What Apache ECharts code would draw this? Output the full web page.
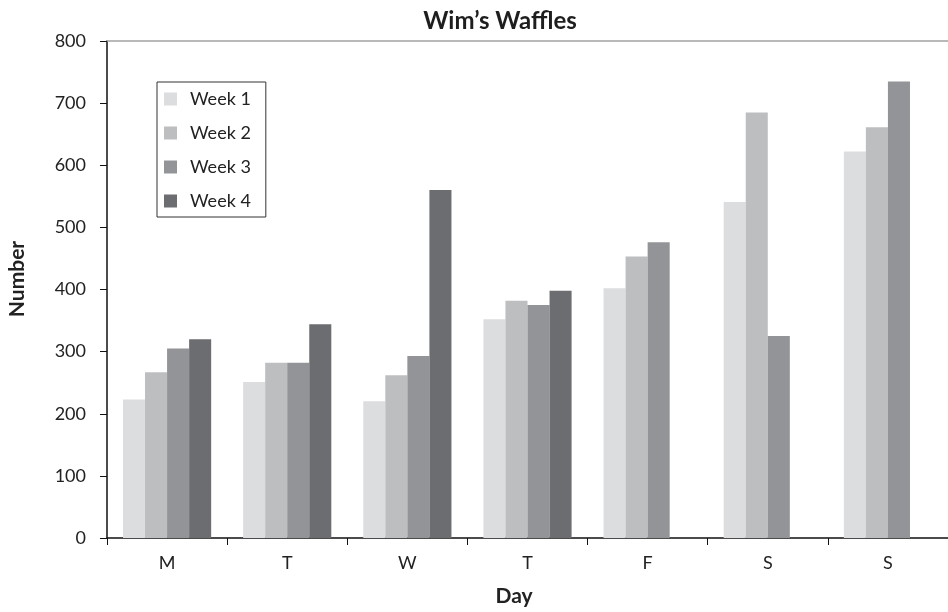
<!DOCTYPE html>
<html>
<head>
<meta charset="utf-8">
<script src="https://cdn.jsdelivr.net/npm/echarts@6/dist/echarts.min.js"></script>
<style>
  html, body { margin: 0; padding: 0; background: #fff; }
  #chart { width: 948px; height: 612px; }
</style>
</head>
<body>
<div id="chart"></div>
<script>
// Daily waffle counts over four weeks
const days = ['M', 'T', 'W', 'T', 'F', 'S', 'S'];
const week1 = [223, 251, 220, 352, 402, 541, 622];
const week2 = [267, 282, 262, 382, 453, 685, 661];
const week3 = [305, 282, 293, 375, 476, 325, 735];
const week4 = [320, 344, 560, 398, null, null, null];
const weekNames = ['Week 1', 'Week 2', 'Week 3', 'Week 4'];
const weekColors = ['#dcdddf', '#bdbec0', '#939497', '#6c6d71'];

const FONT = 'Lato';
const chart = echarts.init(document.getElementById('chart'), null, { renderer: 'canvas' });

const series = [week1, week2, week3, week4].map((vals, i) => ({
  name: weekNames[i],
  type: 'bar',
  data: vals,
  barGap: '0%',
  barCategoryGap: '26.6%',
  itemStyle: { color: weekColors[i] },
  emphasis: { disabled: true }
}));

const boldText = { fontFamily: FONT, fontWeight: 'bold', fontSize: 21, fill: '#222' };

chart.setOption({
  animation: false,
  backgroundColor: '#fff',
  title: {
    text: 'Wim\u2019s Waffles',
    left: 495,
    textAlign: 'center',
    top: 4,
    textStyle: { fontFamily: FONT, fontWeight: 'bold', fontSize: 24, color: '#1e1e1e' }
  },
  graphic: [
    {
      type: 'text',
      x: 514, y: 596,
      style: Object.assign({ text: 'Day', align: 'center', verticalAlign: 'middle' }, boldText)
    },
    {
      type: 'text',
      x: 17, y: 279,
      rotation: Math.PI / 2,
      style: Object.assign({ text: 'Number', align: 'center', verticalAlign: 'middle' }, boldText)
    }
  ],
  legend: {
    orient: 'vertical',
    left: 157,
    top: 82,
    data: weekNames,
    icon: 'rect',
    itemWidth: 13,
    itemHeight: 13,
    itemGap: 16,
    padding: [8, 15, 7, 7],
    borderColor: '#333',
    borderWidth: 1,
    textStyle: { fontFamily: FONT, fontSize: 18, color: '#222', lineHeight: 18, padding: [0, 0, 0, 8] }
  },
  grid: { left: 107, top: 41, width: 848, height: 497 },
  xAxis: [
    {
      type: 'category',
      data: days,
      axisLine: { lineStyle: { color: '#111', width: 1.5 } },
      axisTick: { show: true, length: 7, lineStyle: { color: '#111' } },
      axisLabel: { fontFamily: FONT, fontSize: 18, color: '#222', margin: 16 }
    },
    {
      type: 'category',
      data: days,
      position: 'top',
      axisLine: { lineStyle: { color: '#a2a2a2', width: 1.5 } },
      axisTick: { show: false },
      axisLabel: { show: false }
    }
  ],
  yAxis: {
    type: 'value',
    min: 0,
    max: 800,
    interval: 100,
    axisLine: { show: true, lineStyle: { color: '#111', width: 1.5 } },
    axisTick: { show: true, length: 7, lineStyle: { color: '#111' } },
    axisLabel: { fontFamily: FONT, fontSize: 18, color: '#222', margin: 21 },
    splitLine: { show: false }
  },
  series: series
});
</script>
</body>
</html>
